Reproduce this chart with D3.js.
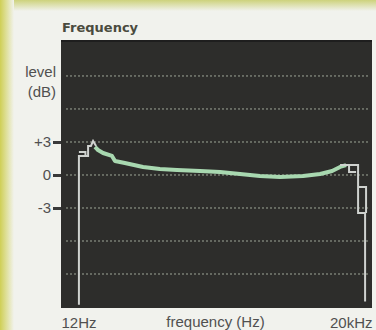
<!DOCTYPE html>
<html><head><meta charset="utf-8">
<script src="https://cdn.jsdelivr.net/npm/d3@7"></script>
<style>html,body{margin:0;padding:0;background:#f1f2ed;}svg{display:block;}</style>
</head><body>
<svg id="c" width="376" height="330"></svg>
<script>
// ---- data ----
const title = "Frequency";
const yLabelLines = ["level", "(dB)"];
const xLabel = "frequency (Hz)";
const xTickValues = [12, 20000];
const xTickLabels = ["12Hz", "20kHz"];
const yTickValues = [3, 0, -3];
const yTickLabels = ["+3", "0", "-3"];
const gridValues = [9, 6, 3, 0, -3, -6, -9];

// green (measured) trace
const greenFreq = [27, 29, 32.7, 40.5, 43.5, 55, 85, 127, 191, 331, 533, 859, 1380, 2230, 3865, 5800, 7720, 9340, 10780];
const greenDb   = [2.55, 2.27, 2.0, 1.73, 1.27, 1.09, 0.73, 0.55, 0.45, 0.36, 0.27, 0.09, -0.09, -0.18, -0.09, 0.09, 0.36, 0.73, 0.9];

// grey (held) trace segments
const greyLeftFreq = [18.4, 18.4, 22.9, 22.9, 24.5, 25.8, 27.7];
const greyLeftDb   = [-11.8, 1.73, 1.73, 2.64, 2.64, 3.09, 2.64];
const greyBoxFreq  = [18.4, 21.5, 21.5];
const greyBoxDb    = [2.09, 2.09, 1.73];
const greyRightFreq = [9340, 14350, 14350, 16960, 16960];
const greyRightDb   = [0.9, 0.9, -3.45, -3.45, -11.5];
const greyRight2Freq = [14350, 17360, 17360];
const greyRight2Db   = [-1.09, -1.09, -3.45];
const greyInnerFreq = [11570, 11570, 13680];
const greyInnerDb   = [0.9, 0.27, 0.27];

// ---- drawing ----
const svg = d3.select("#c");
const W = 376, H = 330;
const plot = {l: 61, r: 372, t: 40, b: 308};
const x = d3.scaleLog().domain([12, 20000]).range([plot.l, plot.r]);
const y = d3.scaleLinear().domain([-12.09, 12.27]).range([plot.b, plot.t]);
const FONT = "'Liberation Sans', Arial, sans-serif";

const defs = svg.append("defs");
const gl = defs.append("linearGradient").attr("id", "gl").attr("x1", 0).attr("x2", 1).attr("y1", 0).attr("y2", 0);
gl.append("stop").attr("offset", "0%").attr("stop-color", "#cfcf55");
gl.append("stop").attr("offset", "55%").attr("stop-color", "#e2e3a8");
gl.append("stop").attr("offset", "100%").attr("stop-color", "#f1f2ed");
const gt = defs.append("linearGradient").attr("id", "gt").attr("x1", 0).attr("x2", 0).attr("y1", 0).attr("y2", 1);
gt.append("stop").attr("offset", "0%").attr("stop-color", "#cdd27c");
gt.append("stop").attr("offset", "100%").attr("stop-color", "#f1f2ed");

svg.append("rect").attr("width", W).attr("height", H).attr("fill", "#f1f2ed");
svg.append("rect").attr("x", 0).attr("y", 0).attr("width", W).attr("height", 11).attr("fill", "url(#gt)");
svg.append("rect").attr("x", 0).attr("y", 0).attr("width", 14).attr("height", H).attr("fill", "url(#gl)");

// plot background
svg.append("rect").attr("x", plot.l).attr("y", plot.t).attr("width", plot.r - plot.l).attr("height", plot.b - plot.t)
  .attr("fill", "#2d2d2b");
svg.append("line").attr("x1", plot.l).attr("x2", plot.r).attr("y1", plot.t + 1).attr("y2", plot.t + 1)
  .attr("stroke", "#1e1e1e").attr("stroke-width", 2);

// grid
svg.append("g").selectAll("line").data(gridValues).join("line")
  .attr("x1", plot.l + 5).attr("x2", plot.r - 3)
  .attr("y1", d => y(d)).attr("y2", d => y(d))
  .attr("stroke", "#bcc6b4").attr("stroke-width", 1).attr("stroke-dasharray", "2,2").attr("opacity", 0.8);

// y axis ticks
const yAxis = d3.axisLeft(y).tickValues(yTickValues).tickFormat((d, i) => yTickLabels[i]).tickSize(8).tickPadding(2);
const ya = svg.append("g").attr("transform", `translate(${plot.l},0)`).call(yAxis);
ya.select(".domain").remove();
ya.selectAll(".tick line").attr("stroke", "#3a3a3a").attr("stroke-width", 3);
ya.selectAll(".tick text").attr("fill", "#505050").style("font-family", FONT).style("font-size", "15px");

// x labels
const xa = svg.append("g").attr("transform", `translate(0,${plot.b})`)
  .call(d3.axisBottom(x).tickValues(xTickValues).tickFormat((d, i) => xTickLabels[i]).tickSize(0).tickPadding(9));
xa.select(".domain").remove();
xa.selectAll(".tick text").attr("fill", "#505050").style("font-family", FONT).style("font-size", "15px")
  .attr("text-anchor", (d, i) => i === 0 ? "start" : "end");

svg.append("text").attr("x", (plot.l + plot.r) / 2 - 1).attr("y", 327).attr("text-anchor", "middle")
  .attr("fill", "#505050").style("font-family", FONT).style("font-size", "15px").text(xLabel);

// y label
svg.append("g").selectAll("text").data(yLabelLines).join("text")
  .attr("x", 56).attr("y", (d, i) => 77 + i * 20).attr("text-anchor", "end")
  .attr("fill", "#505050").style("font-family", FONT).style("font-size", "15px").text(d => d);

// title
svg.append("text").attr("x", 62).attr("y", 32).attr("fill", "#4a4b3e")
  .style("font-family", "'DejaVu Sans', Verdana, sans-serif").style("font-weight", "bold").style("font-size", "13px").text(title);

// traces
const line = d3.line().x(d => x(d[0])).y(d => y(d[1]));
const zip = (a, b) => a.map((v, i) => [v, b[i]]);

svg.append("path").datum(zip(greenFreq, greenDb)).attr("d", line)
  .attr("fill", "none").attr("stroke", "#a8d8b0").attr("stroke-width", 4).attr("stroke-linejoin", "round");

const greySets = [[greyLeftFreq, greyLeftDb], [greyBoxFreq, greyBoxDb], [greyRightFreq, greyRightDb], [greyRight2Freq, greyRight2Db], [greyInnerFreq, greyInnerDb]];
svg.append("g").selectAll("path").data(greySets.map(s => zip(s[0], s[1]))).join("path")
  .attr("d", line).attr("fill", "none").attr("stroke", "#cfd2cf").attr("stroke-width", 2);
</script>
</body></html>
